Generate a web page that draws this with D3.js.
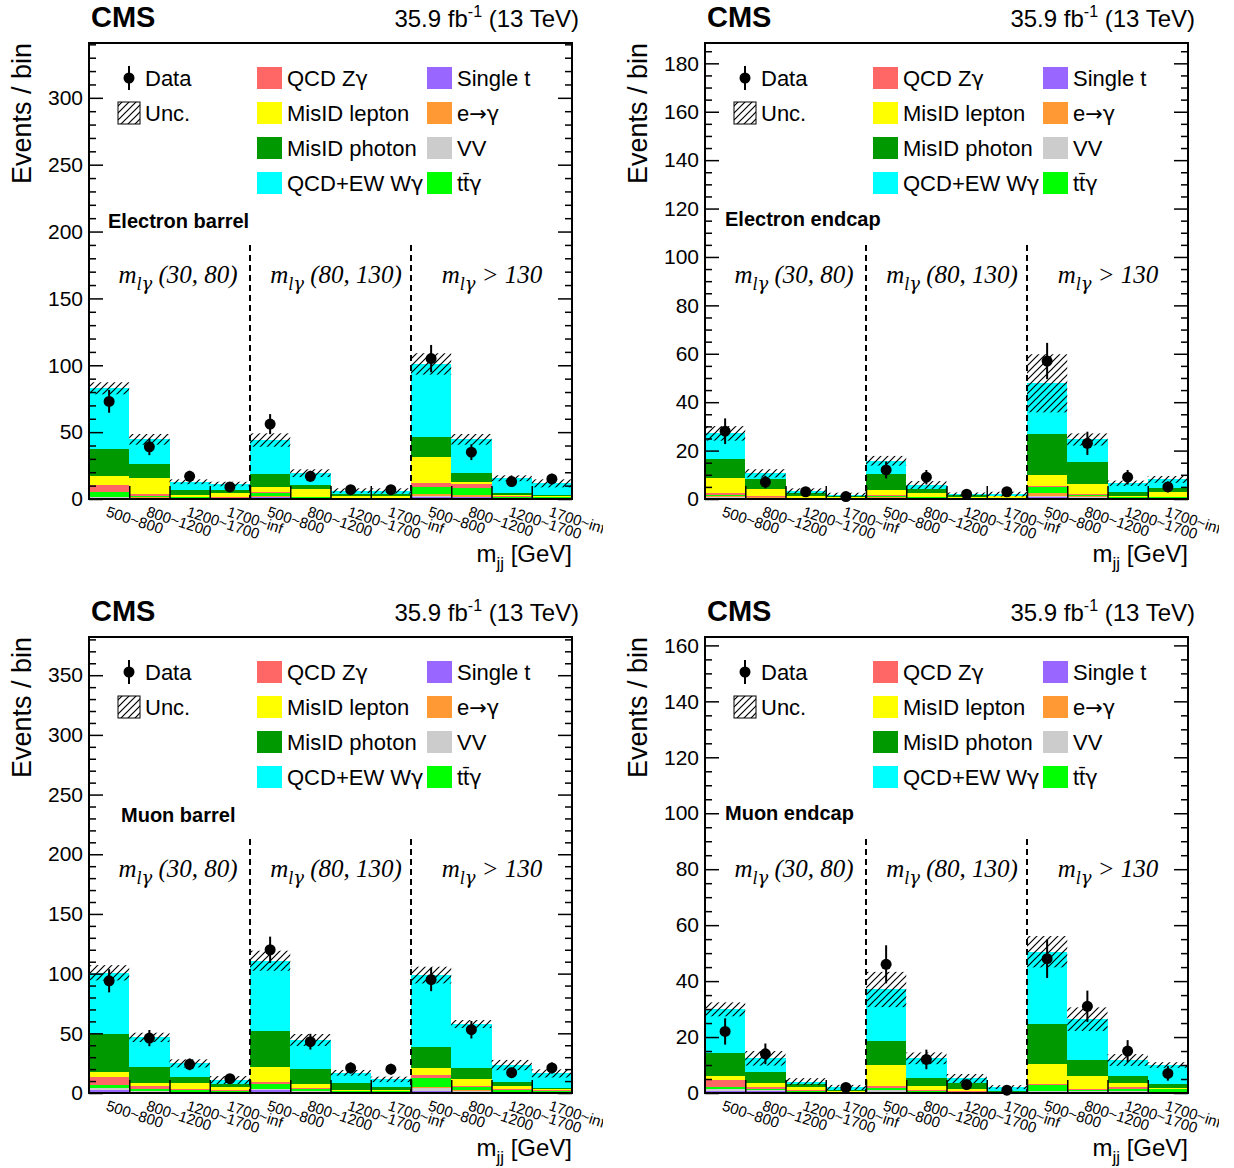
<!DOCTYPE html>
<html>
<head>
<meta charset="utf-8">
<script src="https://cdn.jsdelivr.net/npm/d3@7"></script>
<style>
  body { margin: 0; background: #fff; }
  text { font-family: "Liberation Sans", Arial, Helvetica, sans-serif; fill: #000; }
  .greek { font-family: "DejaVu Sans", sans-serif; }
</style>
</head>
<body>
<svg id="chart" width="1234" height="1168"></svg>
<script>
// bins of m_jj, repeated for the three m_lgamma regions
const binLabels = ["500~800", "800~1200", "1200~1700", "1700~inf",
                   "500~800", "800~1200", "1200~1700", "1700~inf",
                   "500~800", "800~1200", "1200~1700", "1700~inf"];
const regionLabels = [" (30, 80)", " (80, 130)", " > 130"];

// stack order, bottom -> top
const keys = ["singleT", "vv", "etog", "ttg", "zg", "misLep", "misPho", "wg"];

// Electron barrel
const ebSingleT = [1.0, 0.8, 0.4, 0.3, 1.2, 0.4, 0.2, 0.2, 1.5, 1.5, 0.5, 0.4];
const ebVV      = [0.3, 0.2, 0.1, 0.1, 0.3, 0.1, 0.1, 0.1, 0.7, 0.3, 0.2, 0.1];
const ebEtoG    = [0.5, 0.5, 0.3, 0.2, 0.5, 0.3, 0.1, 0.1, 1.5, 1.5, 0.3, 0.3];
const ebTTG     = [3.5, 1.0, 0.5, 0.4, 2.5, 0.4, 0.2, 0.2, 5.5, 5.2, 0.6, 0.4];
const ebZG      = [5.0, 1.5, 0.4, 0.3, 0.5, 0.3, 0.2, 0.2, 3.0, 2.5, 0.3, 0.3];
const ebMisLep  = [6.7, 12.0, 1.5, 3.2, 4.2, 5.8, 1.2, 1.8, 19.4, 2.0, 0.8, 0.8];
const ebMisPho  = [20.2, 10.5, 3.5, 2.5, 9.5, 3.2, 1.7, 0.8, 15.0, 6.7, 1.6, 0.5];
const ebWG      = [45.6, 18.1, 6.2, 4.2, 25.4, 8.8, 2.5, 2.6, 54.4, 24.9, 11.2, 8.9];
const ebUnc     = [4.5, 4.0, 1.8, 1.7, 5.0, 2.9, 1.8, 2.0, 8.0, 4.0, 2.2, 3.0];
const ebData    = [73, 39, 17, 9, 56, 17, 7, 7, 105, 35, 13, 15];
const ebDataErr = [8.5, 6.2, 4.1, 3.0, 7.5, 4.1, 2.6, 2.6, 10.2, 5.9, 3.6, 3.9];

// Electron endcap
const eeSingleT = [0.5, 0.3, 0.1, 0.1, 0.3, 0.2, 0.1, 0.1, 1.0, 0.5, 0.2, 0.2];
const eeVV      = [0.2, 0.1, 0.05, 0.05, 0.1, 0.1, 0.05, 0.05, 0.3, 0.2, 0.1, 0.1];
const eeEtoG    = [0.6, 0.3, 0.15, 0.1, 0.4, 0.2, 0.1, 0.1, 1.3, 0.4, 0.2, 0.3];
const eeTTG     = [0.5, 0.3, 0.1, 0.1, 0.5, 0.3, 0.15, 0.1, 2.3, 0.6, 0.2, 0.3];
const eeZG      = [0.5, 0.2, 0.1, 0.05, 0.3, 0.2, 0.1, 0.05, 0.4, 0.4, 0.1, 0.1];
const eeMisLep  = [6.2, 2.8, 0.9, 0.6, 2.1, 1.3, 0.4, 0.8, 4.6, 4.1, 0.3, 1.8];
const eeMisPho  = [8.0, 4.1, 1.0, 0.3, 6.5, 1.8, 0.6, 0.2, 16.8, 9.1, 1.9, 1.6];
const eeWG      = [10.6, 2.5, 0.9, 0.5, 5.6, 1.7, 0.5, 0.6, 21.1, 9.3, 3.5, 3.7];
const eeUnc     = [3.0, 1.7, 1.1, 0.8, 2.0, 1.6, 0.7, 1.0, 12.0, 2.5, 1.1, 1.4];
const eeData    = [28, 7, 3, 1, 12, 9, 2, 3, 57, 23, 9, 5];
const eeDataErr = [5.3, 2.6, 1.7, 1.0, 3.5, 3.0, 1.4, 1.7, 7.5, 4.8, 3.0, 2.2];

// Muon barrel
const mbSingleT = [2.5, 1.0, 0.6, 0.5, 2.2, 1.0, 0.4, 0.4, 2.0, 1.2, 0.5, 0.4];
const mbVV      = [1.4, 0.5, 0.4, 0.3, 1.5, 0.6, 0.3, 0.3, 2.3, 0.6, 0.3, 0.3];
const mbEtoG    = [0, 0, 0, 0, 0, 0, 0, 0, 1.0, 0.5, 0.2, 0.2];
const mbTTG     = [2.8, 1.5, 1.2, 1.0, 4.2, 1.4, 0.8, 0.6, 7.0, 3.0, 1.6, 1.0];
const mbZG      = [6.9, 3.0, 1.0, 0.8, 1.6, 1.0, 0.4, 0.3, 2.8, 0.5, 0.5, 0.2];
const mbMisLep  = [4.2, 2.1, 5.5, 2.8, 12.5, 3.5, 0.6, 1.0, 5.6, 5.7, 2.8, 1.5];
const mbMisPho  = [31.3, 13.9, 5.0, 1.9, 30.2, 12.3, 6.1, 2.1, 17.6, 9.2, 3.6, 0.8];
const mbWG      = [51.6, 24.6, 11.1, 3.6, 58.6, 24.6, 8.3, 6.7, 60.5, 37.1, 13.9, 12.0];
const mbUnc     = [6.4, 3.9, 3.4, 3.3, 8.4, 5.0, 2.4, 2.3, 7.0, 3.3, 4.3, 3.4];
const mbData    = [94, 46, 24, 12, 120, 43, 21, 20, 95, 53, 17, 21];
const mbDataErr = [9.7, 6.8, 4.9, 3.5, 11.0, 6.6, 4.6, 4.5, 9.7, 7.3, 4.1, 4.6];

// Muon endcap
const meSingleT = [0.8, 0.6, 0.3, 0.1, 0.5, 0.3, 0.2, 0.1, 0.5, 0.4, 0.4, 0.3];
const meVV      = [0.5, 0.4, 0.2, 0.1, 0.4, 0.2, 0.1, 0.05, 0.3, 0.2, 0.2, 0.2];
const meEtoG    = [0, 0, 0, 0, 0, 0, 0, 0, 0, 0, 0, 0];
const meTTG     = [0.7, 0.5, 0.3, 0.1, 0.9, 0.3, 0.2, 0.1, 2.0, 0.5, 0.8, 0.8];
const meZG      = [2.6, 0.5, 0.2, 0.1, 0.7, 0.2, 0.3, 0.05, 0.4, 0.2, 0.6, 0.2];
const meMisLep  = [1.5, 1.5, 1.2, 0.3, 7.5, 1.5, 0.7, 0.2, 7.2, 4.7, 1.7, 0.2];
const meMisPho  = [8.1, 4.1, 0.9, 0.3, 8.6, 2.7, 1.9, 0.3, 14.2, 5.8, 2.5, 1.4];
const meWG      = [15.7, 4.8, 1.0, 1.0, 18.4, 7.2, 1.8, 1.3, 25.9, 14.6, 5.6, 6.9];
const meUnc     = [2.5, 2.6, 1.2, 0.9, 6.3, 2.1, 1.6, 0.7, 5.6, 4.2, 2.1, 1.0];
const meData    = [22, 14, 0, 2, 46, 12, 3, 1, 48, 31, 15, 7];
const meDataErr = [4.7, 3.7, 0, 1.4, 6.8, 3.5, 1.7, 1.0, 6.9, 5.6, 3.9, 2.6];

const colors = {
  singleT: "#9966ff", vv: "#cccccc", etog: "#ff9933", ttg: "#00ff00",
  zg: "#ff6666", misLep: "#ffff00", misPho: "#009900", wg: "#00ffff"
};

// legend: [key, label, column, row]; label parts: [text, useGreekFont]
const legendItems = [
  ["zg", [["QCD Z", 0], ["γ", 1]], 1, 0], ["misLep", [["MisID lepton", 0]], 1, 1],
  ["misPho", [["MisID photon", 0]], 1, 2], ["wg", [["QCD+EW W", 0], ["γ", 1]], 1, 3],
  ["singleT", [["Single t", 0]], 2, 0], ["etog", [["e", 0], ["→γ", 1]], 2, 1],
  ["vv", [["VV", 0]], 2, 2], ["ttg", [["tt\u0304", 0], ["γ", 1]], 2, 3]
];

const panels = [
  { ox: 0, oy: 0, name: "Electron barrel", nameX: 108, nameY: 228, ymax: 341, major: 50, minor: 10,
    series: { singleT: ebSingleT, vv: ebVV, etog: ebEtoG, ttg: ebTTG, zg: ebZG, misLep: ebMisLep, misPho: ebMisPho, wg: ebWG },
    unc: ebUnc, data: ebData, err: ebDataErr },
  { ox: 616, oy: 0, name: "Electron endcap", nameX: 109, nameY: 226, ymax: 188.4, major: 20, minor: 5,
    series: { singleT: eeSingleT, vv: eeVV, etog: eeEtoG, ttg: eeTTG, zg: eeZG, misLep: eeMisLep, misPho: eeMisPho, wg: eeWG },
    unc: eeUnc, data: eeData, err: eeDataErr },
  { ox: 0, oy: 594, name: "Muon barrel", nameX: 121, nameY: 228, ymax: 382, major: 50, minor: 10,
    series: { singleT: mbSingleT, vv: mbVV, etog: mbEtoG, ttg: mbTTG, zg: mbZG, misLep: mbMisLep, misPho: mbMisPho, wg: mbWG },
    unc: mbUnc, data: mbData, err: mbDataErr },
  { ox: 616, oy: 594, name: "Muon endcap", nameX: 109, nameY: 226, ymax: 163, major: 20, minor: 5,
    series: { singleT: meSingleT, vv: meVV, etog: meEtoG, ttg: meTTG, zg: meZG, misLep: meMisLep, misPho: meMisPho, wg: meWG },
    unc: meUnc, data: meData, err: meDataErr }
];

const F = { left: 89, right: 572, top: 43, bottom: 499 };

const svg = d3.select("#chart");
const defs = svg.append("defs");

// hatch "///" for the uncertainty band
defs.append("pattern")
    .attr("id", "hatch")
    .attr("patternUnits", "userSpaceOnUse")
    .attr("width", 7).attr("height", 7)
  .append("path")
    .attr("d", "M-1,1 l2,-2 M0,7 l7,-7 M6,8 l2,-2")
    .attr("stroke", "#000")
    .attr("stroke-width", 1.2);

panels.forEach(function(p, k) {
    defs.append("clipPath").attr("id", "clip" + k)
      .append("rect").attr("x", 0).attr("y", 0).attr("width", 603).attr("height", 594);

    let g = svg.append("g")
        .attr("transform", `translate(${p.ox}, ${p.oy})`)
        .attr("clip-path", `url(#clip${k})`);

    let x = d3.scaleLinear().domain([0, binLabels.length]).range([F.left, F.right]);
    let y = d3.scaleLinear().domain([0, p.ymax]).range([F.bottom, F.top]);

    // stacked histograms
    let rows = binLabels.map(function(b, i) {
        let r = { bin: i };
        keys.forEach(function(kk) { r[kk] = p.series[kk][i]; });
        return r;
    });
    let stacked = d3.stack().keys(keys)(rows);

    g.append("g").selectAll("g")
        .data(stacked)
        .join("g")
        .attr("fill", d => colors[d.key])
        .selectAll("rect")
        .data(d => d)
        .join("rect")
        .attr("shape-rendering", "crispEdges")
        .attr("x", (d, i) => x(i))
        .attr("width", (d, i) => x(i + 1) - x(i))
        .attr("y", d => y(d[1]))
        .attr("height", d => y(d[0]) - y(d[1]));

    // uncertainty band
    let totals = stacked[stacked.length - 1].map(d => d[1]);
    g.append("g").selectAll("rect")
        .data(totals)
        .join("rect")
        .attr("fill", "url(#hatch)")
        .attr("x", (d, i) => x(i))
        .attr("width", (d, i) => x(i + 1) - x(i))
        .attr("y", (d, i) => y(d + p.unc[i]))
        .attr("height", (d, i) => y(Math.max(0, d - p.unc[i])) - y(d + p.unc[i]));

    // region separators
    g.append("g").selectAll("line")
        .data([4, 8])
        .join("line")
        .attr("x1", d => x(d)).attr("x2", d => x(d))
        .attr("y1", 245).attr("y2", F.bottom)
        .attr("stroke", "#000").attr("stroke-width", 2)
        .attr("stroke-dasharray", "6,4");

    // data points
    let pts = p.data.map((v, i) => ({ i: i, v: v, e: p.err[i] })).filter(d => d.v > 0);
    let dg = g.append("g");
    dg.selectAll("line")
        .data(pts)
        .join("line")
        .attr("x1", d => x(d.i + 0.5)).attr("x2", d => x(d.i + 0.5))
        .attr("y1", d => y(d.v + d.e)).attr("y2", d => y(Math.max(0, d.v - d.e)))
        .attr("stroke", "#000").attr("stroke-width", 2);
    dg.selectAll("circle")
        .data(pts)
        .join("circle")
        .attr("cx", d => x(d.i + 0.5))
        .attr("cy", d => y(d.v))
        .attr("r", 5.5)
        .attr("fill", "#000");

    // axes (ROOT style: inward ticks, major + minor)
    let majors = d3.range(0, p.ymax, p.major);
    let minors = d3.range(0, p.ymax, p.minor).filter(v => Math.abs(v / p.major - Math.round(v / p.major)) > 1e-6);

    let yl = g.append("g").attr("transform", `translate(${F.left}, 0)`)
        .call(d3.axisLeft(y).tickValues(majors).tickSize(-14).tickPadding(6).tickFormat(d3.format("d")));
    yl.select(".domain").remove();
    yl.selectAll("line").attr("stroke", "#000").attr("stroke-width", 1.5);
    yl.selectAll("text").style("font-size", "21px").attr("font-family", "Liberation Sans, Arial, sans-serif");

    let ylm = g.append("g").attr("transform", `translate(${F.left}, 0)`)
        .call(d3.axisLeft(y).tickValues(minors).tickSize(-7).tickFormat(""));
    ylm.select(".domain").remove();
    ylm.selectAll("line").attr("stroke", "#000").attr("stroke-width", 1.5);

    let yr = g.append("g").attr("transform", `translate(${F.right}, 0)`)
        .call(d3.axisRight(y).tickValues(majors).tickSize(-14).tickFormat(""));
    yr.select(".domain").remove();
    yr.selectAll("line").attr("stroke", "#000").attr("stroke-width", 1.5);

    let yrm = g.append("g").attr("transform", `translate(${F.right}, 0)`)
        .call(d3.axisRight(y).tickValues(minors).tickSize(-7).tickFormat(""));
    yrm.select(".domain").remove();
    yrm.selectAll("line").attr("stroke", "#000").attr("stroke-width", 1.5);

    let xa = g.append("g").attr("transform", `translate(0, ${F.bottom})`)
        .call(d3.axisBottom(x).tickValues(d3.range(1, binLabels.length)).tickSize(-13).tickFormat(""));
    xa.select(".domain").remove();
    xa.selectAll("line").attr("stroke", "#000").attr("stroke-width", 1.5);

    // bin labels, slanted
    g.append("g").selectAll("text")
        .data(binLabels)
        .join("text")
        .attr("transform", (d, i) => `translate(${x(i + 0.5) - 4}, 516) rotate(18)`)
        .style("font-size", "15px")
        .text(d => d);

    // frame
    g.append("rect")
        .attr("x", F.left).attr("y", F.top)
        .attr("width", F.right - F.left).attr("height", F.bottom - F.top)
        .attr("fill", "none").attr("stroke", "#000").attr("stroke-width", 2);

    // titles
    g.append("text")
        .attr("x", 91).attr("y", 27)
        .style("font-size", "29px").style("font-weight", "bold")
        .text("CMS");

    let lumi = g.append("text")
        .attr("x", 579).attr("y", 27)
        .attr("text-anchor", "end")
        .style("font-size", "24px");
    lumi.append("tspan").text("35.9 fb");
    lumi.append("tspan").attr("dy", -10).style("font-size", "16px").text("-1");
    lumi.append("tspan").attr("dy", 10).text(" (13 TeV)");

    g.append("text")
        .attr("transform", "translate(31, 43) rotate(-90)")
        .attr("text-anchor", "end")
        .style("font-size", "27px")
        .text("Events / bin");

    let xt = g.append("text")
        .attr("x", F.right).attr("y", 562)
        .attr("text-anchor", "end")
        .style("font-size", "24px");
    xt.append("tspan").text("m");
    xt.append("tspan").attr("dy", 7).style("font-size", "17px").text("jj");
    xt.append("tspan").attr("dy", -7).text(" [GeV]");

    g.append("text")
        .attr("x", p.nameX).attr("y", p.nameY)
        .style("font-size", "20px").style("font-weight", "bold")
        .text(p.name);

    // region labels
    [178, 336, 492].forEach(function(cx, r) {
        let t = g.append("text")
            .attr("x", cx).attr("y", 283)
            .attr("text-anchor", "middle")
            .style("font-family", "Liberation Serif, Times New Roman, serif")
            .style("font-style", "italic")
            .style("font-size", "25px");
        t.append("tspan").text("m");
        t.append("tspan").attr("dy", 7).style("font-size", "18px").text("l");
        t.append("tspan").style("font-size", "18px").style("font-family", "DejaVu Serif, serif").text("γ");
        t.append("tspan").attr("dy", -7).text(regionLabels[r]);
    });

    // legend
    let lg = g.append("g");
    let rowY = [78, 113, 148, 183];
    let colX = [118, 257, 427];
    lg.append("line").attr("x1", 129).attr("x2", 129).attr("y1", 66).attr("y2", 90)
        .attr("stroke", "#000").attr("stroke-width", 2);
    lg.append("circle").attr("cx", 129).attr("cy", 78).attr("r", 5.5).attr("fill", "#000");
    lg.append("text").attr("x", 145).attr("y", 78).attr("dy", "0.35em").style("font-size", "22px").text("Data");
    lg.append("rect").attr("x", 118).attr("y", 102).attr("width", 22).attr("height", 22)
        .attr("fill", "url(#hatch)").attr("stroke", "#000").attr("stroke-width", 1);
    lg.append("text").attr("x", 145).attr("y", 113).attr("dy", "0.35em").style("font-size", "22px").text("Unc.");

    lg.selectAll("rect.item")
        .data(legendItems)
        .join("rect")
        .attr("class", "item")
        .attr("x", d => colX[d[2]])
        .attr("y", d => rowY[d[3]] - 11)
        .attr("width", 25).attr("height", 22)
        .attr("fill", d => colors[d[0]]);
    lg.selectAll("text.item")
        .data(legendItems)
        .join("text")
        .attr("class", "item")
        .attr("x", d => colX[d[2]] + 30)
        .attr("y", d => rowY[d[3]])
        .attr("dy", "0.35em")
        .style("font-size", "22px")
        .selectAll("tspan")
        .data(d => d[1])
        .join("tspan")
        .attr("class", d => d[1] ? "greek" : null)
        .style("font-size", d => d[1] ? "21px" : null)
        .text(d => d[0]);
});
</script>
</body>
</html>
